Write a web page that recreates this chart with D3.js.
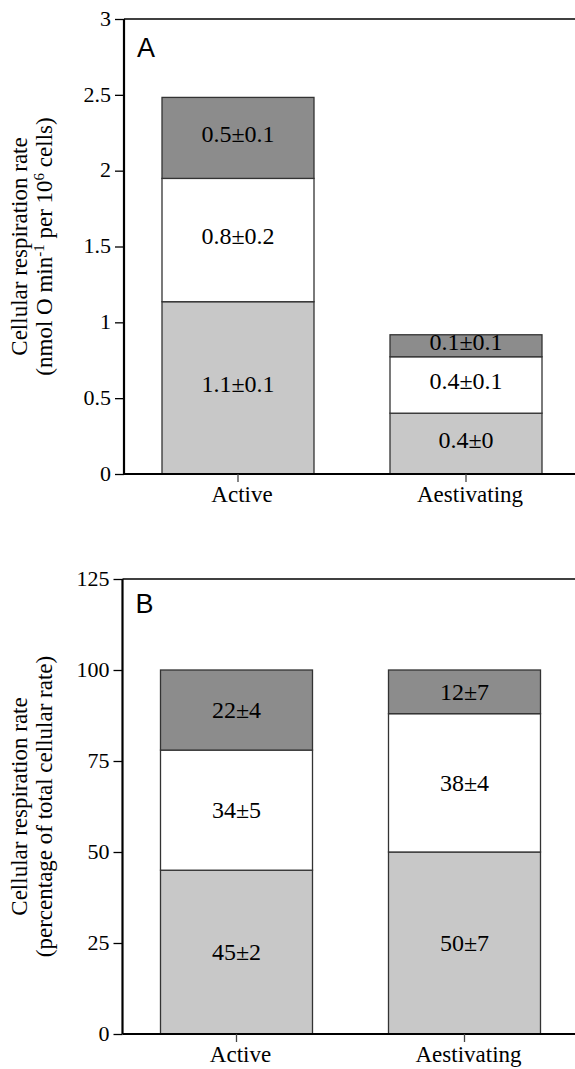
<!DOCTYPE html>
<html>
<head>
<meta charset="utf-8">
<script src="https://cdn.jsdelivr.net/npm/d3@7"></script>
<style>
  body { margin: 0; background: #fff; }
  text { font-family: "Liberation Serif", "Times New Roman", serif; fill: #000; }
</style>
</head>
<body>
<div id="chart"></div>
<script>
// categories and stacked segments (bottom, middle, top)
var categories = ["Active", "Aestivating"];
var keys = ["bottom", "middle", "top"];
var colors = { bottom: "#c8c8c8", middle: "#ffffff", top: "#8c8c8c" };

// panel A: nmol O min-1 per 10^6 cells
var absBottom = [1.136, 0.401];
var absMiddle = [0.813, 0.372];
var absTop = [0.534, 0.145];
var absLabels = [["1.1±0.1", "0.8±0.2", "0.5±0.1"], ["0.4±0", "0.4±0.1", "0.1±0.1"]];
var absTicks = [0, 0.5, 1, 1.5, 2, 2.5, 3];

// panel B: percentage of total cellular rate
var pctBottom = [45, 50];
var pctMiddle = [33, 38];
var pctTop = [22, 12];
var pctLabels = [["45±2", "34±5", "22±4"], ["50±7", "38±4", "12±7"]];
var pctTicks = [0, 25, 50, 75, 100, 125];

var W = 575, H = 1069;

var svg = d3.select("#chart").append("svg")
  .attr("width", W)
  .attr("height", H);

function rows(b, m, t) {
  return categories.map(function(c, i) {
    return { cat: c, bottom: b[i], middle: m[i], top: t[i], idx: i };
  });
}

function panel(opts) {
  var g = svg.append("g");

  var y = d3.scaleLinear()
    .domain([0, opts.ticks[opts.ticks.length - 1]])
    .range([opts.y0, opts.y1]);

  var x = d3.scaleBand()
    .domain(categories)
    .range([opts.ax, opts.ax + 456])
    .paddingInner(1 / 3)
    .paddingOuter(1 / 6);

  var stacked = d3.stack().keys(keys)(opts.data);

  var layer = g.selectAll(".layer")
    .data(stacked)
    .enter()
    .append("g")
    .attr("class", "layer")
    .style("fill", function(d) { return colors[d.key]; });

  layer.selectAll("rect")
    .data(function(d) { return d; })
    .enter()
    .append("rect")
    .attr("x", function(d) { return x(d.data.cat); })
    .attr("y", function(d) { return y(d[1]); })
    .attr("width", x.bandwidth())
    .attr("height", function(d) { return y(d[0]) - y(d[1]); })
    .attr("stroke", "#333")
    .attr("stroke-width", 1.3);

  // segment labels
  stacked.forEach(function(s, k) {
    g.selectAll(".lab" + k)
      .data(s)
      .enter()
      .append("text")
      .attr("x", function(d) { return x(d.data.cat) + x.bandwidth() / 2; })
      .attr("y", function(d) { return (y(d[0]) + y(d[1])) / 2 + opts.labShift; })
      .attr("dy", "0.33em")
      .attr("text-anchor", "middle")
      .style("font-size", "24px")
      .text(function(d) { return opts.labels[d.data.idx][k]; });
  });

  // top frame line
  g.append("line")
    .attr("x1", opts.ax).attr("x2", W)
    .attr("y1", y(opts.ticks[opts.ticks.length - 1]))
    .attr("y2", y(opts.ticks[opts.ticks.length - 1]))
    .attr("stroke", "#000")
    .attr("stroke-width", 1.5);

  // y axis
  var yAxis = d3.axisLeft(y)
    .tickValues(opts.ticks)
    .tickSize(9)
    .tickPadding(4)
    .tickFormat(function(d) { return d; });

  var yg = g.append("g")
    .attr("transform", "translate(" + opts.ax + ",0)")
    .call(yAxis);
  yg.select(".domain").attr("stroke-width", 2.2).attr("d", "M0," + opts.y0 + "V" + opts.y1);
  yg.selectAll(".tick line").attr("stroke-width", 1.3);
  yg.selectAll(".tick text")
    .style("font-family", "Liberation Serif")
    .style("font-size", "22px")
    .attr("dy", "0.28em");

  // x axis
  var xAxis = d3.axisBottom(x).tickSize(8).tickPadding(4);
  var xg = g.append("g")
    .attr("transform", "translate(0," + opts.y0 + ")")
    .call(xAxis);
  xg.select(".domain").attr("stroke-width", 2.2).attr("d", "M" + opts.ax + ",0H" + W);
  xg.selectAll(".tick line").attr("stroke-width", 1.3).attr("stroke", "#444");
  xg.selectAll(".tick text")
    .style("font-family", "Liberation Serif")
    .style("font-size", "23px")
    .attr("dx", 4);

  // panel letter
  g.append("text")
    .attr("x", opts.ax + 13)
    .attr("y", opts.letterY)
    .style("font-family", "Liberation Sans, Arial, sans-serif")
    .style("font-size", "27px")
    .text(opts.letter);

  // y title, two lines
  var cy = (opts.y0 + opts.y1) / 2;
  g.append("text")
    .attr("transform", "translate(27," + cy + ") rotate(-90)")
    .attr("text-anchor", "middle")
    .style("font-size", "23px")
    .text("Cellular respiration rate");

  var t2 = g.append("text")
    .attr("transform", "translate(52," + cy + ") rotate(-90)")
    .attr("text-anchor", "middle")
    .style("font-size", "23px");
  opts.title2(t2);
}

panel({
  data: rows(absBottom, absMiddle, absTop),
  labels: absLabels,
  ticks: absTicks,
  y0: 474, y1: 19, ax: 124,
  labShift: -4,
  letter: "A", letterY: 57,
  title2: function(t) {
    t.append("tspan").text("(nmol O min");
    t.append("tspan").attr("dy", -8).style("font-size", "15px").text("-1");
    t.append("tspan").attr("dy", 8).text(" per 10");
    t.append("tspan").attr("dy", -8).style("font-size", "15px").text("6");
    t.append("tspan").attr("dy", 8).text(" cells)");
  }
});

panel({
  data: rows(pctBottom, pctMiddle, pctTop),
  labels: pctLabels,
  ticks: pctTicks,
  y0: 1034, y1: 579, ax: 122.5,
  labShift: 0,
  letter: "B", letterY: 613,
  title2: function(t) {
    t.text("(percentage of total cellular rate)");
  }
});
</script>
</body>
</html>
